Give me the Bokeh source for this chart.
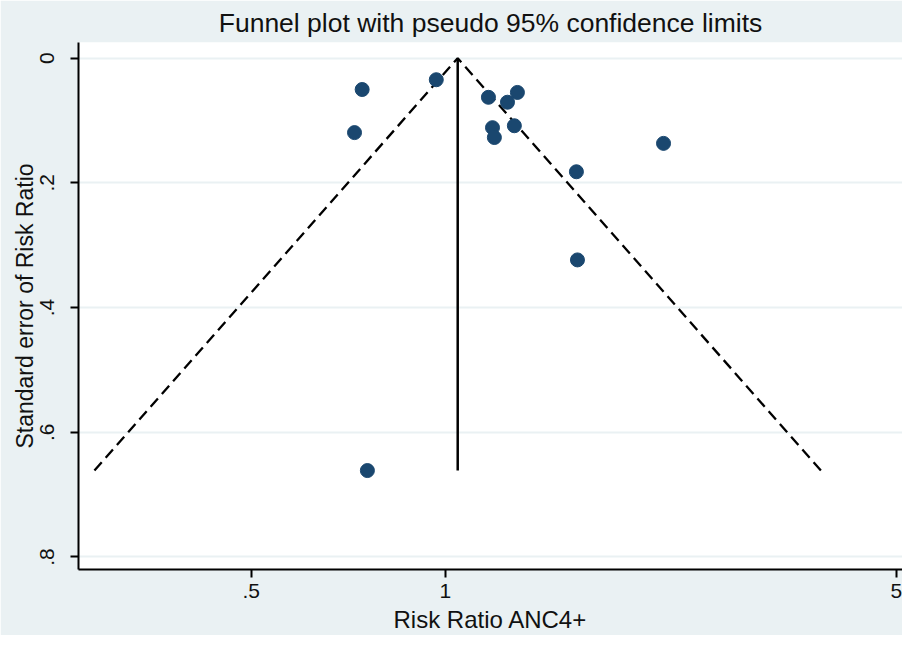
import numpy as np
from bokeh.plotting import figure
from bokeh.models import Range1d, FixedTicker, ColumnDataSource
from bokeh.embed import file_html
from bokeh.resources import INLINE

# Study estimates
risk_ratio = [0.743, 0.723, 0.968, 1.166, 1.293, 1.248, 1.183, 1.191, 1.279, 2.178, 1.596, 1.602, 0.757]
std_err = [0.0503, 0.1194, 0.0346, 0.0628, 0.0550, 0.0707, 0.1115, 0.1273, 0.1084, 0.1367, 0.1822, 0.3236, 0.6614]

x_ticks = [0.5, 1, 5]
x_tick_labels = [".5", "1", "5"]
y_ticks = [0, 0.2, 0.4, 0.6, 0.8]
y_tick_labels = ["0", ".2", ".4", ".6", ".8"]

# Pooled (inverse-variance) estimate and pseudo 95% limits
w = 1.0 / np.array(std_err) ** 2
log_pooled = float(np.sum(w * np.log(risk_ratio)) / np.sum(w))
se_max = max(std_err)
pooled = float(np.exp(log_pooled))
lo_end = float(np.exp(log_pooled - 1.96 * se_max))
hi_end = float(np.exp(log_pooled + 1.96 * se_max))

FONT = "Liberation Sans"
BG = "#eaf1f3"

p = figure(width=902, height=635, x_axis_type="log",
           x_range=Range1d(0.270, 5.11), y_range=Range1d(0.8201, -0.0251),
           output_backend="svg", toolbar_location=None,
           title="Funnel plot with pseudo 95% confidence limits",
           min_border_left=78, min_border_right=0, min_border_top=41, min_border_bottom=60)

p.background_fill_color = "white"
p.border_fill_color = BG
p.outline_line_color = None

p.title.align = "center"
p.title.text_font = FONT
p.title.text_font_size = "26.5px"
p.title.text_font_style = "normal"
p.title.text_color = "#111111"
p.title.standoff = 10

# grid
p.xgrid.visible = False
p.ygrid.ticker = FixedTicker(ticks=y_ticks)
p.ygrid.grid_line_color = BG
p.ygrid.grid_line_width = 2

# axes
for ax in (p.xaxis[0], p.yaxis[0]):
    ax.axis_line_color = "black"
    ax.axis_line_width = 2
    ax.major_tick_line_color = "black"
    ax.major_tick_line_width = 2
    ax.major_tick_out = 8
    ax.major_tick_in = 0
    ax.minor_tick_line_color = None
    ax.major_label_text_font = FONT
    ax.major_label_text_font_size = "21px"
    ax.major_label_text_color = "#111111"
    ax.axis_label_text_font = FONT
    ax.axis_label_text_font_style = "normal"
    ax.axis_label_text_color = "#111111"

p.xaxis.ticker = FixedTicker(ticks=x_ticks)
p.xaxis.major_label_overrides = {t: l for t, l in zip(x_ticks, x_tick_labels)}
p.xaxis.axis_label = "Risk Ratio ANC4+"
p.xaxis.axis_label_text_font_size = "24px"
p.xaxis.major_label_standoff = 6
p.xaxis.axis_label_standoff = 5

p.yaxis.ticker = FixedTicker(ticks=y_ticks)
p.yaxis.major_label_overrides = {t: l for t, l in zip(y_ticks, y_tick_labels)}
p.yaxis.major_label_orientation = "vertical"
p.yaxis.axis_label = "Standard error of Risk Ratio"
p.yaxis.axis_label_text_font_size = "23px"
p.yaxis.major_label_standoff = 16
p.yaxis.axis_label_standoff = 0

# funnel
p.line([lo_end, pooled, hi_end], [se_max, 0, se_max], line_color="black",
       line_width=2.3, line_dash="11 6")
p.line([pooled, pooled], [0, se_max], line_color="black", line_width=2.5)

src = ColumnDataSource(data=dict(rr=risk_ratio, se=std_err))
p.scatter("rr", "se", source=src, size=14, fill_color="#1a476f",
          line_color="#1a476f", line_width=1)

open("out.html", "w").write(file_html(p, INLINE))
